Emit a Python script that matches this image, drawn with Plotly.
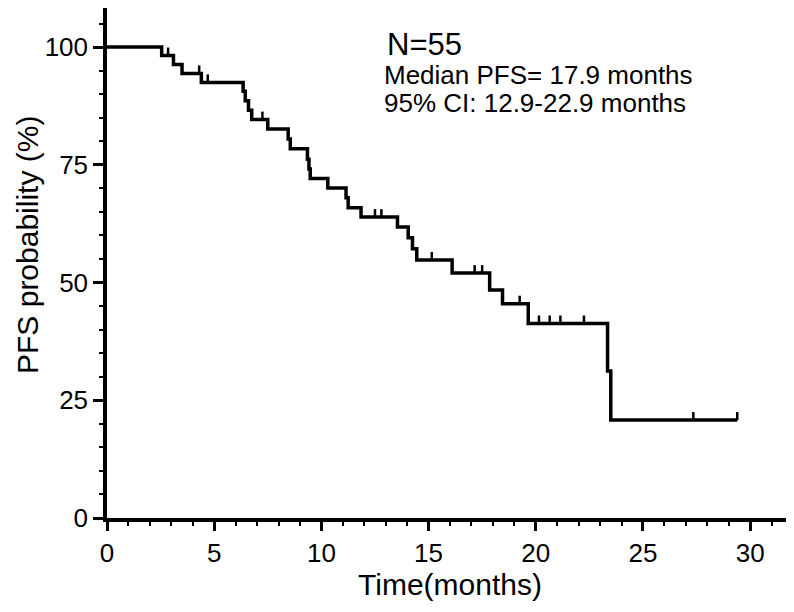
import plotly.graph_objects as go

# Kaplan-Meier step curve (time in months, PFS probability in %)
step_times = [0, 2.55, 3.1, 3.5, 4.4, 6.35, 6.45, 6.6, 6.75, 7.5, 8.45, 8.55,
              9.35, 9.42, 9.48, 10.3, 11.15, 11.25, 11.85, 13.55, 14.05, 14.25,
              14.45, 16.1, 17.85, 18.45, 19.65, 23.35, 23.5, 29.4]
step_surv = [100, 98.2, 96.3, 94.4, 92.5, 90.6, 88.6, 86.6, 84.6, 82.6, 80.5, 78.4,
             76.2, 74.1, 72.1, 70.1, 68.0, 65.9, 63.9, 61.8, 59.5, 57.2,
             54.8, 52.0, 48.4, 45.5, 41.3, 31.2, 20.8, 20.8]

# censored observations
censor_times = [2.85, 4.3, 4.7, 7.25, 12.5, 12.8, 15.15, 17.15, 17.5, 19.25,
                20.15, 20.65, 21.15, 22.25, 27.35, 29.4]
censor_surv = [98.2, 94.4, 92.5, 84.6, 63.9, 63.9, 54.8, 52.0, 52.0, 45.5,
               41.3, 41.3, 41.3, 41.3, 20.8, 20.8]

x_ticks = [0, 5, 10, 15, 20, 25, 30]
y_ticks = [0, 25, 50, 75, 100]

FONT = "Arial, Liberation Sans, sans-serif"

fig = go.Figure()
fig.add_trace(go.Scatter(
    x=step_times, y=step_surv, mode="lines",
    line=dict(color="black", width=3.5, shape="hv"),
    showlegend=False, hoverinfo="skip"))

for t, s in zip(censor_times, censor_surv):
    fig.add_shape(type="line", xref="x", yref="y", ysizemode="pixel",
                  yanchor=s, x0=t, x1=t, y0=0, y1=8,
                  line=dict(color="black", width=2.5))

fig.update_layout(
    width=794, height=612,
    margin=dict(l=99, r=9, t=0, b=102, autoexpand=False),
    plot_bgcolor="white", paper_bgcolor="white",
    font=dict(family=FONT, color="black", size=26),
    xaxis=dict(range=[0, 32], tickvals=x_ticks, showgrid=False, zeroline=False,
               showline=True, linecolor="black", linewidth=3.5,
               ticks="outside", ticklen=9, tickwidth=2.5, tickcolor="black",
               tickfont=dict(size=26),
               minor=dict(dtick=1, ticks="outside", ticklen=4, tickwidth=2,
                          tickcolor="black", showgrid=False),
               title=dict(text="Time(months)", font=dict(size=30), standoff=6)),
    yaxis=dict(range=[0, 108.3], tickvals=y_ticks, showgrid=False, zeroline=False,
               showline=True, linecolor="black", linewidth=3.5,
               ticks="outside", ticklen=10, tickwidth=2.5, tickcolor="black",
               tickfont=dict(size=26),
               minor=dict(dtick=5, ticks="outside", ticklen=4, tickwidth=2,
                          tickcolor="black", showgrid=False)),
)

fig.add_annotation(x=-0.115, y=58, xref="paper", yref="y", text="PFS probability (%)",
                   textangle=-90, showarrow=False, xanchor="center", yanchor="middle",
                   font=dict(size=30))
fig.add_annotation(x=12.95, y=100.6, xref="x", yref="y", text="N=55",
                   showarrow=False, xanchor="left", yanchor="middle",
                   font=dict(size=31))
fig.add_annotation(x=12.85, y=94.1, xref="x", yref="y", text="Median PFS= 17.9 months",
                   showarrow=False, xanchor="left", yanchor="middle",
                   font=dict(size=26))
fig.add_annotation(x=12.85, y=88.1, xref="x", yref="y", text="95% CI: 12.9-22.9 months",
                   showarrow=False, xanchor="left", yanchor="middle",
                   font=dict(size=26))

fig.write_html("out.html")
